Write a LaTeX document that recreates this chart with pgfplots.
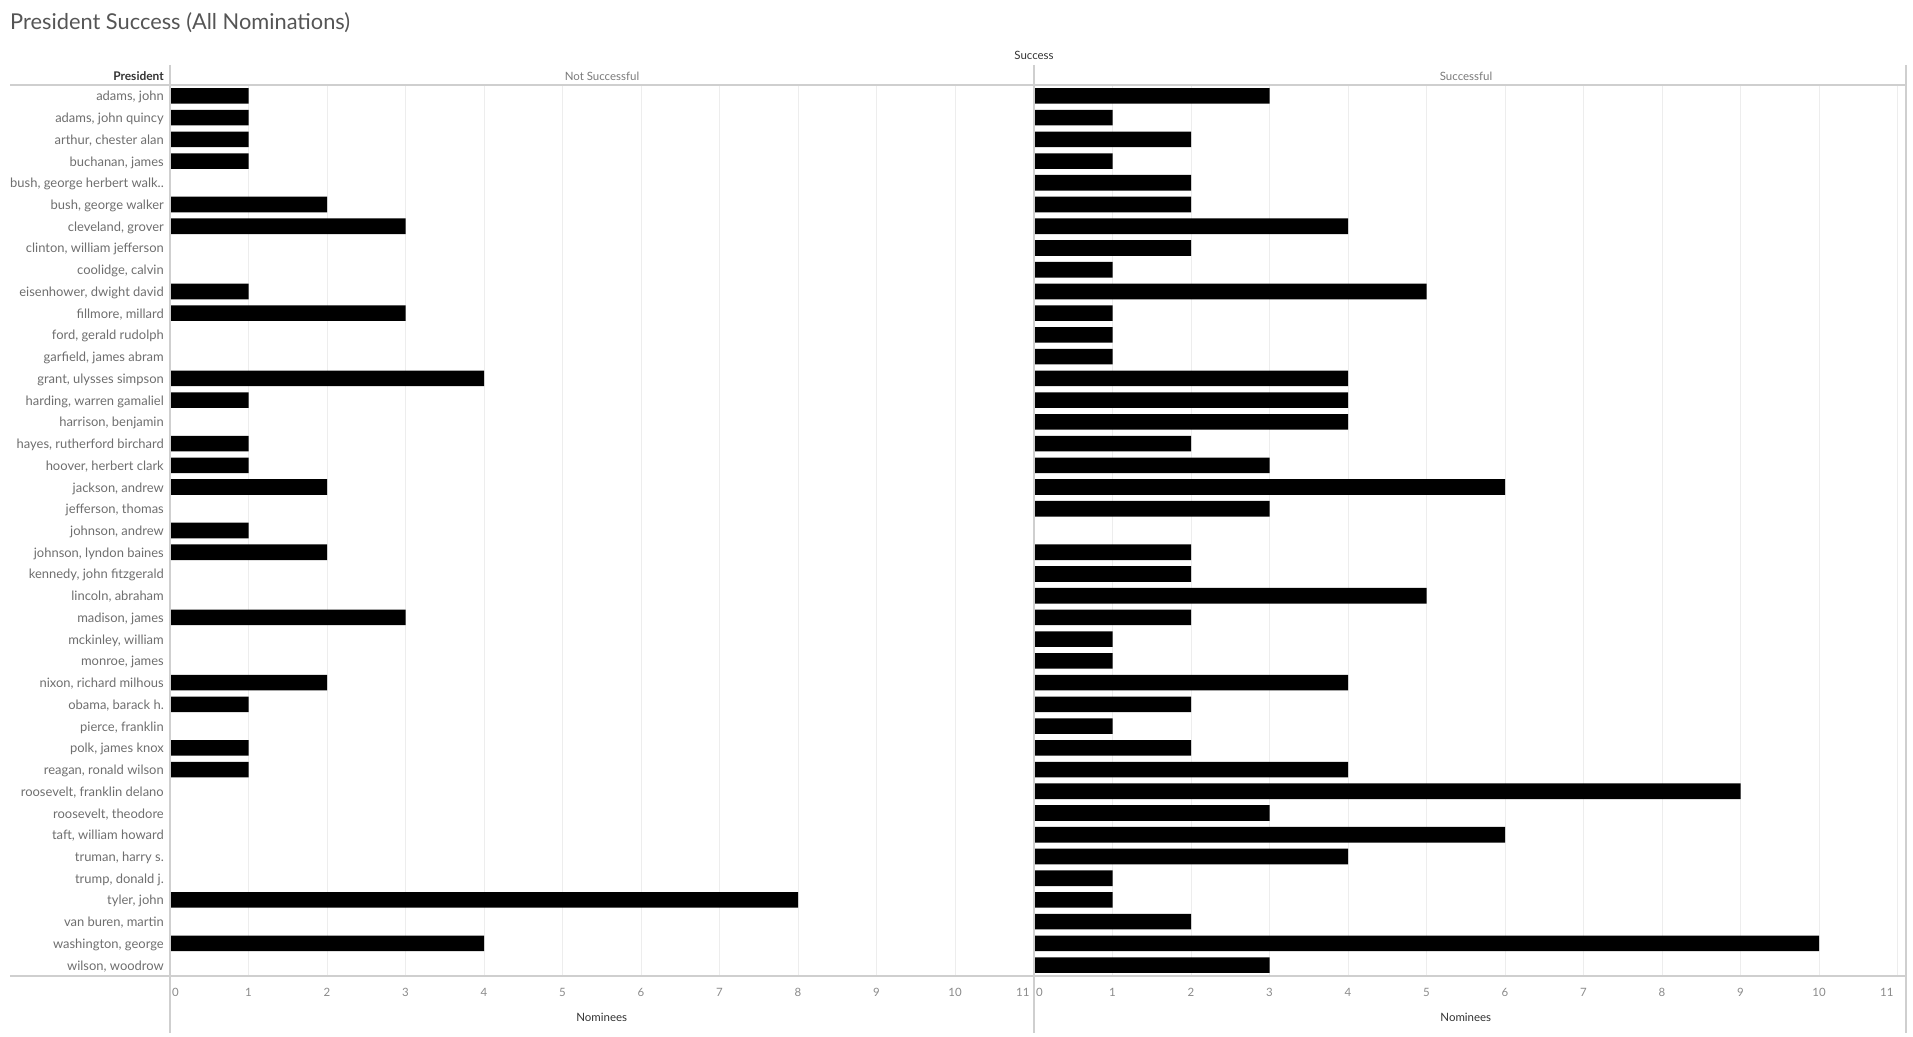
\documentclass[border=0pt]{standalone}
\usepackage{fontspec}
\setmainfont{Lato}
\usepackage{pgfplots}
\pgfplotsset{compat=1.18}
\usepackage{pgfplotstable}

\definecolor{namegray}{HTML}{6E6E6E}
\definecolor{tickgray}{HTML}{8A8A8A}
\definecolor{headgray}{HTML}{7A7A7A}
\definecolor{darktext}{HTML}{333333}
\definecolor{titlegray}{HTML}{555555}
\definecolor{linegray}{HTML}{CFCFCF}
\definecolor{gridgray}{HTML}{EDEDED}

% nominees per president: not successful (ns), successful (s)
\pgfplotstableread[col sep=semicolon]{
name;ns;s
adams, john;1;3
adams, john quincy;1;1
arthur, chester alan;1;2
buchanan, james;1;1
bush, george herbert walk..;0;2
bush, george walker;2;2
cleveland, grover;3;4
clinton, william jefferson;0;2
coolidge, calvin;0;1
eisenhower, dwight david;1;5
fillmore, millard;3;1
ford, gerald rudolph;0;1
garfield, james abram;0;1
grant, ulysses simpson;4;4
harding, warren gamaliel;1;4
harrison, benjamin;0;4
hayes, rutherford birchard;1;2
hoover, herbert clark;1;3
jackson, andrew;2;6
jefferson, thomas;0;3
johnson, andrew;1;0
johnson, lyndon baines;2;2
kennedy, john fitzgerald;0;2
lincoln, abraham;0;5
madison, james;3;2
mckinley, william;0;1
monroe, james;0;1
nixon, richard milhous;2;4
obama, barack h.;1;2
pierce, franklin;0;1
polk, james knox;1;2
reagan, ronald wilson;1;4
roosevelt, franklin delano;0;9
roosevelt, theodore;0;3
taft, william howard;0;6
truman, harry s.;0;4
trump, donald j.;0;1
tyler, john;8;1
van buren, martin;0;2
washington, george;4;10
wilson, woodrow;0;3
}\presidents

\pgfplotsset{
  panel/.style={
    scale only axis, width=863.5bp, height=891bp, anchor=north west,
    xmin=0, xmax=11, ymin=0.5, ymax=41.5, y dir=reverse,
    xbar, bar width=15.6bp,
    axis line style={draw=none}, major tick length=0pt,
    xmajorgrids, grid style={gridgray, line width=1bp},
    xtick={0,1,2,3,4,5,6,7,8,9,10,11},
    xticklabels={{\makebox[0pt][l]{\hspace{2bp}0}},1,2,3,4,5,6,7,8,9,10,{\makebox[0pt][r]{11\hspace{4bp}}}},
    xticklabel style={font=\fontsize{11.5}{12}\selectfont, text=tickgray, anchor=center, yshift=-16bp},
    xlabel={Nominees},
    xlabel style={at={(axis description cs:0.5,0)}, anchor=center, yshift=-41bp,
      font=\fontsize{11.5}{12}\selectfont, text=darktext},
  },
  bars/.style={fill=black, draw=none},
}

\begin{document}
\begin{tikzpicture}
\path[use as bounding box] (0,0) rectangle (1913bp,1037bp);

\begin{axis}[panel, at={(170bp,952bp)},
  ytick={1,...,41}, yticklabels from table={\presidents}{name},
  yticklabel style={font=\fontsize{13}{14}\selectfont, text=namegray,
    anchor=east, inner sep=0pt, xshift=-6bp, yshift=-2bp, text height=9bp, text depth=3bp}]
\addplot[bars] table[x=ns, y expr=\coordindex+1] {\presidents};
\end{axis}

\begin{axis}[panel, at={(1034bp,952bp)}, ytick=\empty]
\addplot[bars] table[x=s, y expr=\coordindex+1] {\presidents};
\end{axis}

% frame lines
\draw[linegray, line width=1.3bp] (10bp,952bp) -- (1906bp,952bp);
\draw[linegray, line width=1.3bp] (10bp,61bp) -- (1906bp,61bp);
\foreach \xx in {170,1034,1906}
  \draw[linegray, line width=1.3bp] (\xx bp,972bp) -- (\xx bp,4bp);

% headers
\node[anchor=west, text=titlegray, font=\fontsize{21.9}{26}\selectfont, inner sep=0pt] at (10bp,1014bp) {President Success (All Nominations)};
\node[text=darktext, font=\fontsize{11.5}{12}\selectfont, inner sep=0pt] at (1034bp,982bp) {Success};
\node[text=headgray, font=\fontsize{11.5}{12}\selectfont, inner sep=0pt] at (602bp,961bp) {Not Successful};
\node[text=headgray, font=\fontsize{11.5}{12}\selectfont, inner sep=0pt] at (1466bp,961bp) {Successful};
\node[anchor=east, text=darktext, font=\bfseries\fontsize{12}{13}\selectfont, inner sep=0pt] at (164bp,961bp) {President};
\end{tikzpicture}
\end{document}
